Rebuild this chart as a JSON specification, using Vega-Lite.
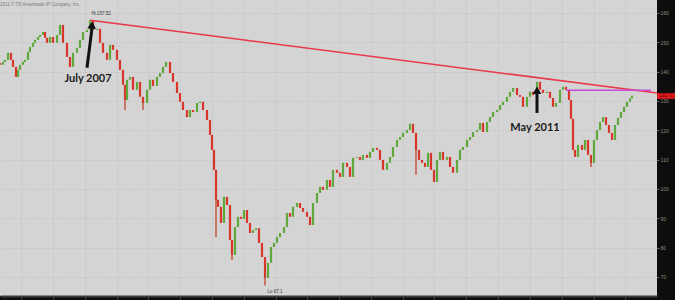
{
  "$schema": "https://vega.github.io/schema/vega-lite/v6.json",
  "width": 657,
  "height": 296,
  "autosize": {"type": "none"},
  "padding": {"left": 0, "top": 0, "right": 18, "bottom": 4},
  "background": "#0d0d0d",
  "config": {
    "view": {"fill": "#d4d4d4", "stroke": null},
    "font": "Liberation Sans",
    "axisX": {"labels": false, "title": null, "ticks": true, "tickSize": 3, "tickColor": "#555555", "domain": true, "domainColor": "#3a3a3a", "domainWidth": 2, "grid": true, "gridColor": "#bcbcbc", "gridDash": [1, 2]},
    "axisY": {"title": null, "labelFontSize": 5, "labelColor": "#8c8c78", "labelPadding": 1, "labelOverlap": false, "labelBound": false, "labelFlush": false, "tickSize": 2, "tickColor": "#666666", "domain": false, "grid": true, "gridColor": "#bcbcbc", "gridDash": [1, 2]}
  },
  "datasets": {
    "bars": [
      {"i":0,"o":142.9,"c":142.3},{"i":3,"o":142.3,"c":143.3},{"i":5,"o":143.3,"c":144.0},{"i":8,"o":144.0,"c":146.4},
      {"i":11,"o":146.4,"c":144.0},{"i":13,"o":144.0,"c":141.6},{"i":16,"o":141.6,"c":138.2},{"i":18,"o":138.2,"c":140.6},
      {"i":20,"o":140.6,"c":142.3},{"i":23,"o":142.3,"c":143.3},{"i":25,"o":143.3,"c":144.0},{"i":28,"o":144.0,"c":146.7},
      {"i":30,"o":146.7,"c":148.4},{"i":33,"o":148.4,"c":149.8},{"i":35,"o":149.8,"c":150.8},{"i":38,"o":150.8,"c":151.8},
      {"i":40,"o":151.8,"c":152.5},{"i":43,"o":152.5,"c":153.5},{"i":45,"o":153.5,"c":151.5},{"i":47,"o":151.5,"c":149.8},
      {"i":50,"o":149.8,"c":151.8},{"i":53,"o":151.8,"c":149.8},{"i":57,"o":149.8,"c":152.5},{"i":60,"o":152.5,"c":155.9},
      {"i":63,"o":155.9,"c":149.8},{"i":67,"o":149.8,"c":145.0},{"i":70,"o":145.0,"c":141.6},{"i":73,"o":141.6,"c":146.4},
      {"i":77,"o":146.4,"c":148.1},{"i":80,"o":148.1,"c":150.8},{"i":83,"o":150.8,"c":153.5},{"i":87,"o":153.5,"c":154.2},
      {"i":90,"o":154.2,"c":157.5},{"i":93,"o":157.5,"c":154.2},{"i":97,"o":154.2,"c":154.6},{"i":100,"o":154.6,"c":149.8},
      {"i":103,"o":149.8,"c":146.4},{"i":107,"o":146.4,"c":144.0},{"i":110,"o":144.0,"c":149.1},{"i":113,"o":149.1,"c":147.4},
      {"i":117,"o":147.4,"c":144.0},{"i":120,"o":144.0,"c":140.6},{"i":123,"o":140.6,"c":135.5},{"i":125,"o":135.5,"c":130.3},
      {"i":127,"o":130.3,"c":137.2},{"i":130,"o":137.2,"c":138.2},{"i":133,"o":138.2,"c":133.8},{"i":137,"o":133.8,"c":136.5},
      {"i":140,"o":136.5,"c":131.4},{"i":143,"o":131.4,"c":129.3},{"i":147,"o":129.3,"c":133.8},{"i":150,"o":133.8,"c":137.2},
      {"i":153,"o":137.2,"c":135.1},{"i":157,"o":135.1,"c":138.2},{"i":160,"o":138.2,"c":139.5},{"i":163,"o":139.5,"c":141.6},
      {"i":166,"o":141.6,"c":143.3},{"i":170,"o":143.3,"c":139.5},{"i":173,"o":139.5,"c":136.5},{"i":177,"o":136.5,"c":132.7},
      {"i":180,"o":132.7,"c":129.7},{"i":183,"o":129.7,"c":126.9},{"i":187,"o":126.9,"c":124.5},{"i":190,"o":124.5,"c":126.9},
      {"i":193,"o":126.9,"c":126.2},{"i":197,"o":126.2,"c":129.3},{"i":200,"o":129.3,"c":129.7},{"i":203,"o":129.7,"c":126.9},
      {"i":207,"o":126.9,"c":123.5},{"i":210,"o":123.5,"c":118.4},{"i":212,"o":118.4,"c":113.3},{"i":214,"o":113.3,"c":106.5},
      {"i":216,"o":106.5,"c":96.3},{"i":218,"o":96.3,"c":93.9},{"i":221,"o":93.9,"c":88.4},{"i":224,"o":88.4,"c":97.3},
      {"i":227,"o":97.3,"c":94.5},{"i":230,"o":94.5,"c":82.6},{"i":232,"o":82.6,"c":77.5},{"i":235,"o":77.5,"c":87.0},
      {"i":238,"o":87.0,"c":90.5},{"i":241,"o":90.5,"c":89.8},{"i":244,"o":89.8,"c":92.8},{"i":247,"o":92.8,"c":88.4},
      {"i":250,"o":88.4,"c":85.0},{"i":253,"o":85.0,"c":86.0},{"i":256,"o":86.0,"c":86.6},{"i":259,"o":86.6,"c":81.6},
      {"i":262,"o":81.6,"c":76.8},{"i":265,"o":76.8,"c":69.7},{"i":268,"o":69.7,"c":74.8},{"i":271,"o":74.8,"c":80.2},
      {"i":274,"o":80.2,"c":81.6},{"i":277,"o":81.6,"c":83.6},{"i":280,"o":83.6,"c":85.0},{"i":284,"o":85.0,"c":87.0},
      {"i":287,"o":87.0,"c":91.8},{"i":290,"o":91.8,"c":90.5},{"i":293,"o":90.5,"c":93.9},{"i":297,"o":93.9,"c":95.2},
      {"i":300,"o":95.2,"c":93.5},{"i":303,"o":93.5,"c":92.2},{"i":307,"o":92.2,"c":90.5},{"i":310,"o":90.5,"c":87.7},
      {"i":313,"o":87.7,"c":95.2},{"i":317,"o":95.2,"c":98.6},{"i":320,"o":98.6,"c":100.7},{"i":323,"o":100.7,"c":99.7},
      {"i":327,"o":99.7,"c":103.1},{"i":330,"o":103.1,"c":100.7},{"i":333,"o":100.7,"c":106.5},{"i":337,"o":106.5,"c":105.5},
      {"i":340,"o":105.5,"c":104.1},{"i":343,"o":104.1,"c":108.9},{"i":347,"o":108.9,"c":107.5},{"i":350,"o":107.5,"c":104.1},
      {"i":353,"o":104.1,"c":110.6},{"i":357,"o":110.6,"c":110.9},{"i":360,"o":110.9,"c":109.9},{"i":363,"o":109.9,"c":111.6},
      {"i":367,"o":111.6,"c":110.6},{"i":370,"o":110.6,"c":112.6},{"i":373,"o":112.6,"c":114.0},{"i":377,"o":114.0,"c":113.3},
      {"i":380,"o":113.3,"c":109.9},{"i":383,"o":109.9,"c":106.5},{"i":387,"o":106.5,"c":108.9},{"i":390,"o":108.9,"c":110.9},
      {"i":393,"o":110.9,"c":114.3},{"i":397,"o":114.3,"c":116.7},{"i":400,"o":116.7,"c":117.7},{"i":403,"o":117.7,"c":119.1},
      {"i":407,"o":119.1,"c":120.1},{"i":410,"o":120.1,"c":122.2},{"i":413,"o":122.2,"c":119.1},{"i":416,"o":119.1,"c":113.3},
      {"i":419,"o":113.3,"c":109.9},{"i":422,"o":109.9,"c":108.9},{"i":425,"o":108.9,"c":107.5},{"i":428,"o":107.5,"c":112.3},
      {"i":431,"o":112.3,"c":106.5},{"i":434,"o":106.5,"c":102.4},{"i":437,"o":102.4,"c":109.9},{"i":440,"o":109.9,"c":112.6},
      {"i":443,"o":112.6,"c":109.9},{"i":447,"o":109.9,"c":110.9},{"i":450,"o":110.9,"c":107.5},{"i":453,"o":107.5,"c":105.5},
      {"i":457,"o":105.5,"c":109.9},{"i":460,"o":109.9,"c":113.3},{"i":463,"o":113.3,"c":114.3},{"i":467,"o":114.3,"c":116.7},
      {"i":470,"o":116.7,"c":117.7},{"i":473,"o":117.7,"c":119.4},{"i":477,"o":119.4,"c":120.1},{"i":480,"o":120.1,"c":122.5},
      {"i":483,"o":122.5,"c":119.4},{"i":487,"o":119.4,"c":122.8},{"i":490,"o":122.8,"c":124.5},{"i":493,"o":124.5,"c":126.2},
      {"i":497,"o":126.2,"c":126.9},{"i":500,"o":126.9,"c":128.6},{"i":503,"o":128.6,"c":129.7},{"i":507,"o":129.7,"c":131.4},
      {"i":510,"o":131.4,"c":133.1},{"i":513,"o":133.1,"c":134.4},{"i":517,"o":134.4,"c":132.0},{"i":520,"o":132.0,"c":131.4},
      {"i":523,"o":131.4,"c":128.0},{"i":527,"o":128.0,"c":131.4},{"i":530,"o":131.4,"c":133.1},{"i":533,"o":133.1,"c":132.0},
      {"i":537,"o":132.0,"c":136.5},{"i":540,"o":136.5,"c":133.8},{"i":543,"o":133.8,"c":132.7},{"i":547,"o":132.7,"c":133.1},
      {"i":550,"o":133.1,"c":131.0},{"i":553,"o":131.0,"c":128.0},{"i":556,"o":128.0,"c":129.3},{"i":560,"o":129.3,"c":133.8},
      {"i":563,"o":133.8,"c":134.8},{"i":566,"o":134.8,"c":133.8},{"i":569,"o":133.8,"c":130.3},{"i":571,"o":130.3,"c":123.9},
      {"i":573,"o":123.9,"c":113.3},{"i":575,"o":113.3,"c":110.9},{"i":578,"o":110.9,"c":115.0},{"i":582,"o":115.0,"c":113.3},
      {"i":585,"o":113.3,"c":116.7},{"i":588,"o":116.7,"c":111.6},{"i":591,"o":111.6,"c":108.9},{"i":594,"o":108.9,"c":116.7},
      {"i":597,"o":116.7,"c":120.1},{"i":600,"o":120.1,"c":122.8},{"i":603,"o":122.8,"c":124.5},{"i":606,"o":124.5,"c":121.8},
      {"i":609,"o":121.8,"c":119.1},{"i":612,"o":119.1,"c":116.7},{"i":615,"o":116.7,"c":121.8},{"i":618,"o":121.8,"c":124.2},
      {"i":621,"o":124.2,"c":126.2},{"i":624,"o":126.2,"c":128.0},{"i":627,"o":128.0,"c":129.7},{"i":630,"o":129.7,"c":130.9},
      {"i":632,"o":130.9,"c":131.8}
    ],
    "wicks": [
      {"i":125,"l":126.9,"h":131.5},{"i":143,"l":126.9,"h":130.0},{"i":216,"l":83.6,"h":98.0},
      {"i":232,"l":75.8,"h":79.0},{"i":265,"l":67.1,"h":71.0},{"i":416,"l":104.8,"h":114.0},{"i":591,"l":107.5,"h":110.5}
    ],
    "trend": [{"i":90,"v":157.5},{"i":657,"v":132.7}],
    "level": [{"i":566,"v":133.6},{"i":651,"v":133.6}],
    "arrows": [
      {"i":87,"v":141.3,"i2":92,"v2":154.8},
      {"i":537,"v":125.9,"i2":537,"v2":132.4}
    ],
    "heads": [{"i":92,"v":155.9,"a":6},{"i":537,"v":133.6,"a":0}],
    "big": [{"i":88,"v":137.6,"t":"July 2007"},{"i":535,"v":120.8,"t":"May 2011"}],
    "small": [
      {"i":40,"v":162.7,"t":"2011 © TD Ameritrade IP Company, Inc.","k":"c"},
      {"i":101,"v":159.7,"t":"Hi 157.52","k":"n"},
      {"i":275,"v":64.7,"t":"Lo 67.1","k":"n"}
    ],
    "tag": [{"i":657,"i2":675,"lo":130.7,"hi":132.7,"p":131.7,"t":"131.71","x":666}]
  },
  "layer": [
    {
      "data": {"name": "bars"},
      "mark": {"type": "rule", "strokeWidth": 2.2},
      "encoding": {
        "x": {"field": "i", "type": "quantitative", "scale": {"domain": [0, 657], "nice": false, "zero": false},
          "axis": {"values": [21,53,85,117,148,180,212,244,276,307,339,371,403,434,466,498,530,562,594,625]}},
        "y": {"field": "o", "type": "quantitative", "scale": {"domain": [63.5, 164.4], "nice": false, "zero": false},
          "axis": {"orient": "right", "values": [70,80,90,100,110,120,130,140,150,160]}},
        "y2": {"field": "c"},
        "color": {"condition": {"test": "datum.c >= datum.o", "value": "#5ea83c"}, "value": "#d8352b"}
      }
    },
    {
      "data": {"name": "wicks"},
      "mark": {"type": "rule", "strokeWidth": 1.3, "color": "#c5432f"},
      "encoding": {
        "x": {"field": "i", "type": "quantitative", "axis": {"values": [21,53,85,117,148,180,212,244,276,307,339,371,403,434,466,498,530,562,594,625]}},
        "y": {"field": "l", "type": "quantitative", "axis": {"orient": "right", "values": [70,80,90,100,110,120,130,140,150,160]}},
        "y2": {"field": "h"}
      }
    },
    {
      "data": {"name": "trend"},
      "mark": {"type": "line", "color": "#e8384a", "strokeWidth": 1.5},
      "encoding": {
        "x": {"field": "i", "type": "quantitative", "axis": {"values": [21,53,85,117,148,180,212,244,276,307,339,371,403,434,466,498,530,562,594,625]}},
        "y": {"field": "v", "type": "quantitative", "axis": {"orient": "right", "values": [70,80,90,100,110,120,130,140,150,160]}}
      }
    },
    {
      "data": {"name": "level"},
      "mark": {"type": "line", "color": "#c44fd6", "strokeWidth": 1.5},
      "encoding": {
        "x": {"field": "i", "type": "quantitative", "axis": {"values": [21,53,85,117,148,180,212,244,276,307,339,371,403,434,466,498,530,562,594,625]}},
        "y": {"field": "v", "type": "quantitative", "axis": {"orient": "right", "values": [70,80,90,100,110,120,130,140,150,160]}}
      }
    },
    {
      "data": {"name": "arrows"},
      "mark": {"type": "rule", "strokeWidth": 3, "color": "#111111"},
      "encoding": {
        "x": {"field": "i", "type": "quantitative", "axis": {"values": [21,53,85,117,148,180,212,244,276,307,339,371,403,434,466,498,530,562,594,625]}},
        "y": {"field": "v", "type": "quantitative", "axis": {"orient": "right", "values": [70,80,90,100,110,120,130,140,150,160]}},
        "x2": {"field": "i2"},
        "y2": {"field": "v2"}
      }
    },
    {
      "data": {"name": "heads"},
      "mark": {"type": "point", "shape": "triangle-up", "filled": true, "size": 75, "color": "#111111", "opacity": 1},
      "encoding": {
        "x": {"field": "i", "type": "quantitative", "axis": {"values": [21,53,85,117,148,180,212,244,276,307,339,371,403,434,466,498,530,562,594,625]}},
        "y": {"field": "v", "type": "quantitative", "axis": {"orient": "right", "values": [70,80,90,100,110,120,130,140,150,160]}},
        "angle": {"field": "a", "type": "quantitative", "scale": null}
      }
    },
    {
      "data": {"name": "big"},
      "mark": {"type": "text", "font": "Lato", "fontWeight": "bold", "fontSize": 11, "color": "#1a1a1a", "align": "center", "baseline": "middle"},
      "encoding": {
        "x": {"field": "i", "type": "quantitative", "axis": {"values": [21,53,85,117,148,180,212,244,276,307,339,371,403,434,466,498,530,562,594,625]}},
        "y": {"field": "v", "type": "quantitative", "axis": {"orient": "right", "values": [70,80,90,100,110,120,130,140,150,160]}},
        "text": {"field": "t"}
      }
    },
    {
      "data": {"name": "small"},
      "mark": {"type": "text", "fontSize": 4.5, "align": "center", "baseline": "middle"},
      "encoding": {
        "x": {"field": "i", "type": "quantitative", "axis": {"values": [21,53,85,117,148,180,212,244,276,307,339,371,403,434,466,498,530,562,594,625]}},
        "y": {"field": "v", "type": "quantitative", "axis": {"orient": "right", "values": [70,80,90,100,110,120,130,140,150,160]}},
        "text": {"field": "t"},
        "color": {"condition": {"test": "datum.k == 'c'", "value": "#7a7a7a"}, "value": "#333333"}
      }
    },
    {
      "data": {"name": "tag"},
      "mark": {"type": "rect", "color": "#e01a1f"},
      "encoding": {
        "x": {"field": "i", "type": "quantitative", "axis": {"values": [21,53,85,117,148,180,212,244,276,307,339,371,403,434,466,498,530,562,594,625]}},
        "x2": {"field": "i2"},
        "y": {"field": "lo", "type": "quantitative", "axis": {"orient": "right", "values": [70,80,90,100,110,120,130,140,150,160]}},
        "y2": {"field": "hi"}
      }
    },
    {
      "data": {"name": "tag"},
      "mark": {"type": "text", "fontSize": 4.5, "color": "#5a0000", "align": "center", "baseline": "middle"},
      "encoding": {
        "x": {"field": "x", "type": "quantitative", "axis": {"values": [21,53,85,117,148,180,212,244,276,307,339,371,403,434,466,498,530,562,594,625]}},
        "y": {"field": "p", "type": "quantitative", "axis": {"orient": "right", "values": [70,80,90,100,110,120,130,140,150,160]}},
        "text": {"field": "t"}
      }
    }
  ]
}
